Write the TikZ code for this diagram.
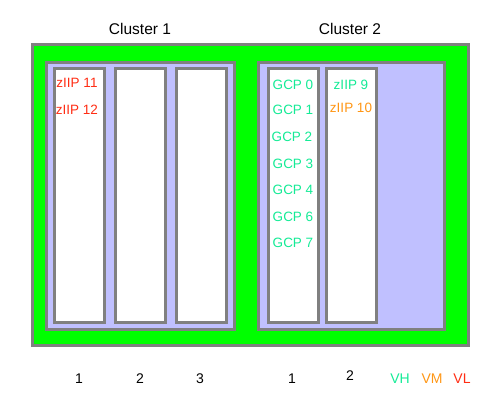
\documentclass[tikz,border=0pt]{standalone}
\usepackage{fontspec}
\setmainfont{Liberation Sans}
\usetikzlibrary{positioning}

\definecolor{hostgreen}{RGB}{0,255,0}
\definecolor{lpar}{RGB}{192,192,255}
\definecolor{frame}{RGB}{128,128,128}
\definecolor{vhcol}{RGB}{20,235,150}
\definecolor{vmcol}{RGB}{255,150,20}
\definecolor{vlcol}{RGB}{255,45,20}

\begin{document}
\begin{tikzpicture}[
  x=1pt, y=-1pt,
  panel/.style={draw=frame, line width=3pt, inner sep=0pt},
  host/.style={panel, fill=hostgreen, minimum width=436pt, minimum height=301pt},
  cluster/.style={panel, fill=lpar, minimum height=267pt},
  core/.style={panel, fill=white, minimum width=50pt, minimum height=254pt},
  title/.style={font=\fontsize{15.5}{18}\selectfont},
  cpu/.style={font=\fontsize{13.5}{16}\selectfont},
  num/.style={font=\fontsize{14}{17}\selectfont}
]
\useasboundingbox (0,0) rectangle (500,400);

% host and clusters
\node[host] (host) at (250,194.5) {};
\node[cluster, minimum width=188pt] (cl1) at (140,195.5) {};
\node[cluster, minimum width=186pt] (cl2) at (351,195.5) {};

\node[title] (t1) at (140,29) {Cluster 1};
\node[title] (t2) at (350,29) {Cluster 2};

% columns
\node[core] (a1) at (79,195) {};
\node[core] (a2) at (140.5,195) {};
\node[core] (a3) at (201,195) {};
\node[core] (b1) at (293,195) {};
\node[core] (b2) at (351.5,195) {};

% processors
\node[cpu, text=vlcol] (z11) at (77,83) {zIIP 11};
\node[cpu, text=vlcol] (z12) at (77,110) {zIIP 12};

\node[cpu, text=vhcol] (g0) at (293,85) {GCP 0};
\node[cpu, text=vhcol] (g1) at (293,110) {GCP 1};
\node[cpu, text=vhcol] (g2) at (292,137) {GCP 2};
\node[cpu, text=vhcol] (g3) at (293,164) {GCP 3};
\node[cpu, text=vhcol] (g4) at (293,190) {GCP 4};
\node[cpu, text=vhcol] (g6) at (293,217) {GCP 6};
\node[cpu, text=vhcol] (g7) at (293,243) {GCP 7};

\node[cpu, text=vhcol] (z9) at (351,85) {zIIP 9};
\node[cpu, text=vmcol] (z10) at (351,108) {zIIP 10};

% numbering and legend
\node[num] (n1) at (79,379) {1};
\node[num] (n2) at (140,379) {2};
\node[num] (n3) at (200,379) {3};
\node[num] (m1) at (292,379) {1};
\node[num] (m2) at (350,376) {2};
\node[num, text=vhcol] (vh) at (400,379) {VH};
\node[num, text=vmcol] (vm) at (432,379) {VM};
\node[num, text=vlcol] (vl) at (462,379) {VL};
\end{tikzpicture}
\end{document}
